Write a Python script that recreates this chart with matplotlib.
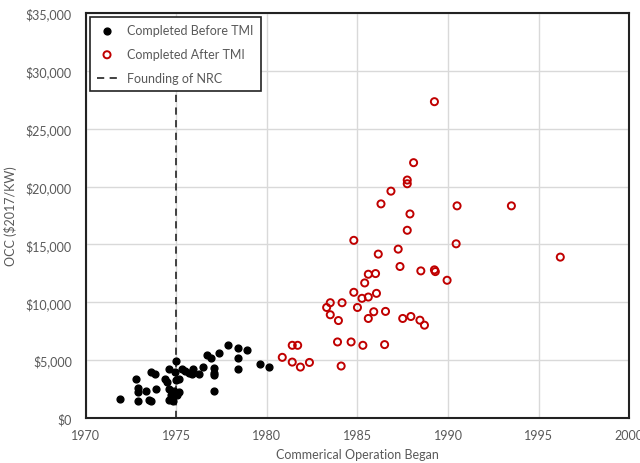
import matplotlib
matplotlib.use("Agg")
import matplotlib.pyplot as plt

plt.rcParams['font.family'] = ['Lato', 'DejaVu Sans']

# plants completed before TMI (year of commercial operation, OCC $2017/kW)
before_year = [1971.9, 1972.8, 1972.9, 1972.9, 1972.9, 1973.3, 1973.5, 1973.6, 1973.6, 1973.85,
               1973.9, 1974.4, 1974.5, 1974.6, 1974.6, 1974.7, 1974.6, 1974.85, 1975.05, 1974.8,
               1975.15, 1975.0, 1974.9, 1975.15, 1975.0, 1975.3, 1975.5, 1975.7, 1975.9, 1975.85,
               1976.25, 1976.5, 1976.7, 1976.9, 1977.1, 1977.1, 1977.1, 1977.1, 1977.35, 1977.85,
               1978.4, 1978.4, 1978.4, 1978.9, 1979.6, 1980.1]
before_occ = [1620, 3390, 2600, 2260, 1480, 2370, 1540, 1450, 3960, 3760,
              2510, 3390, 3120, 4250, 2520, 2020, 1590, 2320, 2020, 1500,
              2220, 4920, 3960, 3390, 3240, 4200, 4020, 3880, 4200, 3820,
              3820, 4400, 5470, 5190, 4320, 3880, 3680, 2320, 5610, 6280,
              6050, 5190, 4200, 5850, 4630, 4400]

# plants completed after TMI
after_year = [1984.8, 1986.15, 1987.25, 1990.45, 1987.35, 1988.5, 1989.25, 1989.3, 1989.95, 1985.6,
              1986.0, 1985.4, 1984.8, 1985.25, 1985.6, 1986.05, 1983.5, 1983.3, 1984.15, 1985.0,
              1983.5, 1983.95, 1985.9, 1986.55, 1985.6, 1987.5, 1987.95, 1988.45, 1988.7, 1981.4,
              1981.7, 1983.9, 1984.65, 1985.3, 1986.5, 1980.85, 1981.4, 1981.85, 1982.35, 1984.1,
              1989.25, 1988.1, 1987.75, 1987.75, 1986.85, 1986.3, 1990.5, 1993.5, 1987.9, 1987.75,
              1996.2]
after_occ = [15350, 14160, 14590, 15050, 13090, 12710, 12800, 12650, 11900, 12420,
             12480, 11670, 10860, 10340, 10450, 10770, 9960, 9550, 9960, 9550,
             8920, 8420, 9180, 9210, 8600, 8600, 8770, 8450, 8020, 6280,
             6280, 6570, 6570, 6280, 6340, 5240, 4830, 4400, 4800, 4490,
             27330, 22060, 20560, 20240, 19600, 18500, 18330, 18330, 17630, 16220,
             13900]

nrc_year = 1975

fig = plt.figure(figsize=(6.4, 4.64), dpi=100)
ax = fig.add_axes([0.134, 0.097, 0.849, 0.873])

ax.grid(True, color='#d9d9d9', linewidth=1)
ax.set_axisbelow(True)

ax.scatter(before_year, before_occ, s=24, color='black', label='Completed Before TMI', zorder=3)
ax.scatter(after_year, after_occ, s=26, facecolors='none', edgecolors='#c00000',
           linewidths=1.4, label='Completed After TMI', zorder=3)
ax.axvline(nrc_year, color='#333333', linestyle='--', linewidth=1.3, dashes=(4, 3),
           label='Founding of NRC', zorder=2)

ax.set_xlim(1970, 2000)
ax.set_ylim(0, 35000)
ax.set_xticks(range(1970, 2001, 5))
ax.set_yticks(range(0, 35001, 5000))
ax.set_yticklabels(['${:,}'.format(v) for v in range(0, 35001, 5000)])

txt = '#595959'
ax.tick_params(axis='both', length=0, labelsize=9, labelcolor=txt)
ax.tick_params(axis='x', pad=8)
ax.tick_params(axis='y', pad=10)
for sp in ax.spines.values():
    sp.set_color('#222222')
    sp.set_linewidth(1.5)

ax.set_xlabel('Commerical Operation Began', fontsize=9, color=txt, labelpad=5)
ax.set_ylabel('OCC ($2017/KW)', fontsize=9, color=txt, labelpad=6)

leg = ax.legend(loc='upper left', fontsize=9, frameon=True, fancybox=False,
                edgecolor='#222222', framealpha=1, borderaxespad=0.3,
                handlelength=1.6, labelspacing=0.95, borderpad=0.6)
leg.get_frame().set_linewidth(1.2)
for t in leg.get_texts():
    t.set_color(txt)

fig.savefig('out.png', dpi=100)
